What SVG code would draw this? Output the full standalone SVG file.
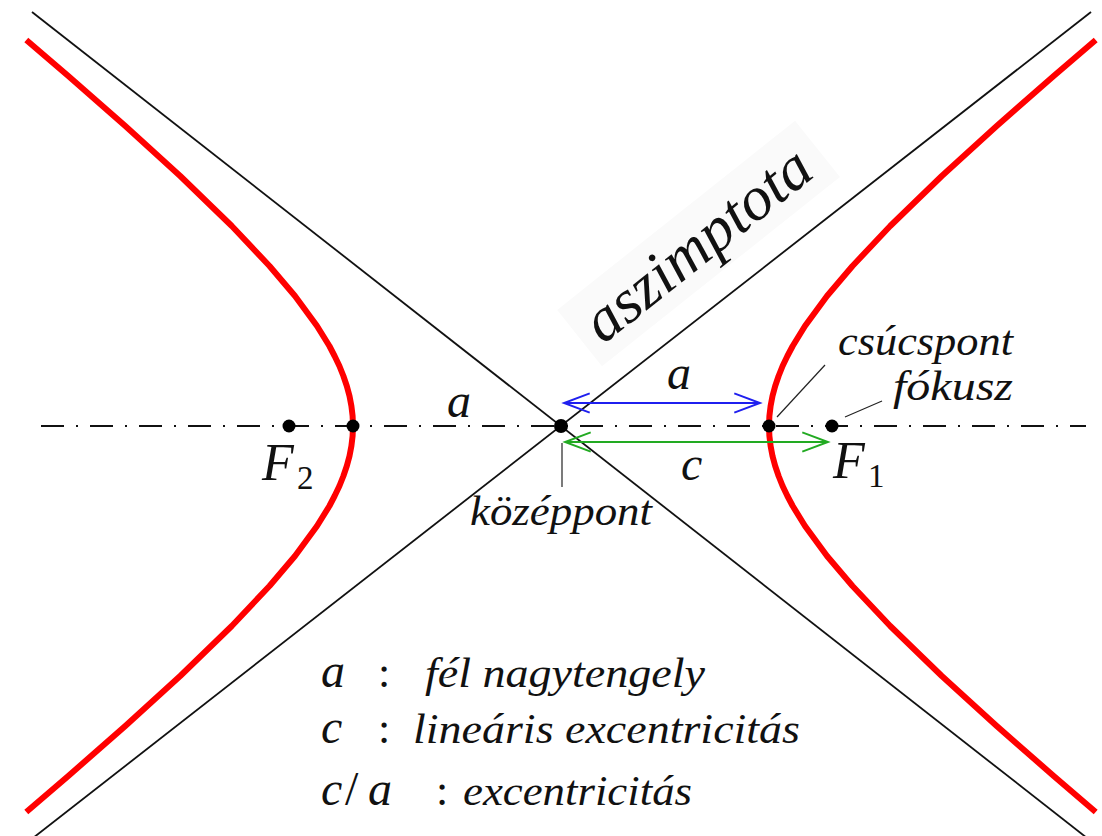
<svg xmlns="http://www.w3.org/2000/svg" width="1102" height="836" viewBox="0 0 1102 836">
<style>
text{font-family:Liberation Serif, Times New Roman, Times, DejaVu Serif, Noto Serif, FreeSerif, serif}
.asym{stroke:#111;stroke-width:1.8;fill:none}
.curve{stroke:#ff0000;stroke-width:6;fill:none;stroke-linejoin:round;stroke-linecap:butt}
.axis{stroke:#111;stroke-width:2;stroke-dasharray:23 12 2 12;fill:none}
.lead{stroke:#222;stroke-width:1.2;fill:none}
.dot{fill:#000}
.math{font-style:italic;fill:#111}
.up{font-style:normal;fill:#111}
.lbl{font-style:italic;fill:#111;font-size:42px}
</style>
<defs>
<marker id="hb" markerUnits="userSpaceOnUse" markerWidth="30" markerHeight="24" refX="0" refY="0" viewBox="-26 -11 28 22" orient="auto-start-reverse" overflow="visible">
<path d="M-24,-9 L0,0 L-24,9" fill="none" stroke="#1f1fef" stroke-width="1.8"/>
</marker>
<marker id="hg" markerUnits="userSpaceOnUse" markerWidth="30" markerHeight="24" refX="0" refY="0" viewBox="-26 -11 28 22" orient="auto-start-reverse" overflow="visible">
<path d="M-24,-9 L0,0 L-24,9" fill="none" stroke="#22aa22" stroke-width="1.8"/>
</marker>
</defs>
<rect width="1102" height="836" fill="#fff"/>

<g id="asymptote-label">
<g transform="translate(603,345) rotate(-38.5)">
<rect x="-14" y="-56" width="304" height="72" fill="#fafafa"/>
<text class="math" x="0" y="0" font-size="62" textLength="273" lengthAdjust="spacingAndGlyphs">aszimptota</text>
</g>
</g>

<g id="asymptotes">
<line class="asym" x1="32" y1="12" x2="1087" y2="838"/>
<line class="asym" x1="1091" y1="12" x2="33" y2="838"/>
</g>

<g id="axis">
<line class="axis" x1="41" y1="426" x2="1086" y2="426"/>
</g>

<g id="hyperbola-right">
<polyline class="curve" points="1095.7,40 1053.7,76 996.7,126 941.8,176 890.2,226 852.5,266 827.0,296 805.0,326 792.7,346 787.4,356 782.6,366 778.6,376 775.2,386 772.5,396 770.6,406 769.4,416 769,426 769.4,436 770.6,446 772.5,456 775.2,466 778.6,476 782.6,486 787.4,496 792.7,506 805.0,526 827.0,556 852.5,586 890.2,626 941.8,676 996.7,726 1053.7,776 1095.7,812"/>
</g>
<g id="hyperbola-left">
<polyline class="curve" points="26.3,40 68.3,76 125.3,126 180.2,176 231.8,226 269.5,266 295.0,296 317.0,326 329.4,346 334.6,356 339.4,366 343.4,376 346.8,386 349.5,396 351.4,406 352.6,416 353,426 352.6,436 351.4,446 349.5,456 346.8,466 343.4,476 339.4,486 334.6,496 329.4,506 317.0,526 295.0,556 269.5,586 231.8,626 180.2,676 125.3,726 68.3,776 26.3,812"/>
</g>

<g id="connectors">
<line x1="564" y1="403" x2="760" y2="403" stroke="#1f1fef" stroke-width="1.8" marker-start="url(#hb)" marker-end="url(#hb)"/>
<line x1="565" y1="442" x2="828" y2="442" stroke="#22aa22" stroke-width="1.8" marker-start="url(#hg)" marker-end="url(#hg)"/>
<line class="lead" x1="777" y1="417" x2="825" y2="365"/>
<line class="lead" x1="845" y1="417" x2="882" y2="401"/>
<line class="lead" x1="562" y1="443" x2="562" y2="487"/>
</g>

<g id="center">
<circle class="dot" cx="561" cy="426" r="7"/>
<text class="lbl" x="470" y="525" textLength="182" lengthAdjust="spacingAndGlyphs">középpont</text>
</g>
<g id="vertex-right">
<circle class="dot" cx="769" cy="426" r="6.5"/>
<text class="lbl" x="838" y="355" textLength="175" lengthAdjust="spacingAndGlyphs">csúcspont</text>
</g>
<g id="vertex-left">
<circle class="dot" cx="353" cy="426" r="6.5"/>
</g>
<g id="focus-1">
<circle class="dot" cx="832" cy="426" r="6.5"/>
<text class="lbl" x="893" y="400" textLength="120" lengthAdjust="spacingAndGlyphs">fókusz</text>
<text class="math" x="833" y="478" font-size="52">F</text>
<text class="up" x="868" y="487" font-size="33">1</text>
</g>
<g id="focus-2">
<circle class="dot" cx="289" cy="426" r="6.5"/>
<text class="math" x="262" y="480" font-size="52">F</text>
<text class="up" x="297" y="489" font-size="33">2</text>
</g>

<g id="dim-labels">
<text class="math" x="667" y="389" font-size="48">a</text>
<text class="math" x="681" y="480" font-size="48">c</text>
<text class="math" x="447" y="417" font-size="48">a</text>
</g>

<g id="legend">
<text class="math" x="321" y="687" font-size="48">a</text>
<text class="up" x="378" y="687" font-size="44">:</text>
<text class="lbl" x="425" y="687" textLength="280" lengthAdjust="spacingAndGlyphs">fél nagytengely</text>
<text class="math" x="321" y="743" font-size="48">c</text>
<text class="up" x="378" y="743" font-size="44">:</text>
<text class="lbl" x="413" y="743" textLength="387" lengthAdjust="spacingAndGlyphs">lineáris excentricitás</text>
<text class="math" x="321" y="805" font-size="48">c</text>
<text class="up" x="345" y="805" font-size="48">/</text>
<text class="math" x="368" y="805" font-size="48">a</text>
<text class="up" x="436" y="805" font-size="44">:</text>
<text class="lbl" x="463" y="805" textLength="229" lengthAdjust="spacingAndGlyphs">excentricitás</text>
</g>
</svg>
